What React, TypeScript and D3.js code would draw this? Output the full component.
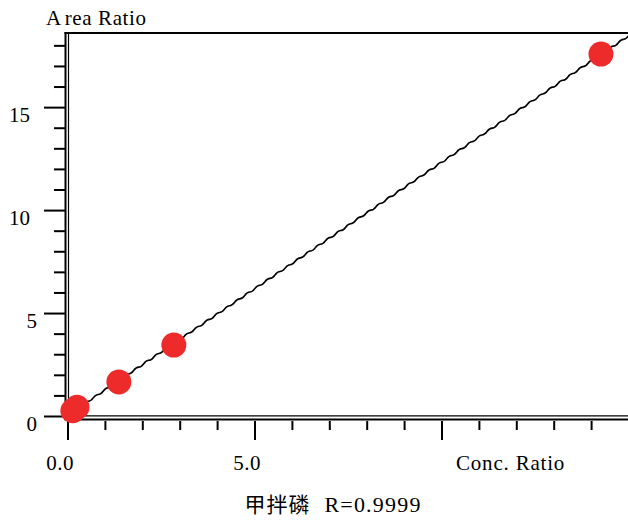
import { useEffect, useRef } from "react";
import * as d3 from "d3";

// calibration points
const concRatio = [0.13, 0.24, 1.36, 2.83, 14.25];
const areaRatio = [0.28, 0.45, 1.68, 3.47, 17.6];
const xMajorTicks = [0, 5];
const xTickLabels = ["0.0", "5.0"];
const yMajorTicks = [0, 5, 10, 15];
const compound = "甲拌磷";
const rValue = "R=0.9999";

const W = 628;
const H = 521;
const serif = "'Liberation Serif', 'Times New Roman', serif";

export default function App() {
  const svgRef = useRef<SVGSVGElement>(null);

  useEffect(() => {
    if (!svgRef.current) return;
    const svg = d3.select(svgRef.current);
    svg.selectAll("*").remove();

    const x = d3.scaleLinear().domain([0, 15]).range([68, 629]);
    const y = d3.scaleLinear().domain([0, 18.6]).range([416.5, 33.5]);

    // least squares fit
    const mx = d3.mean(concRatio)!;
    const my = d3.mean(areaRatio)!;
    let sxy = 0;
    let sxx = 0;
    concRatio.forEach((c, i) => {
      sxy += (c - mx) * (areaRatio[i] - my);
      sxx += (c - mx) * (c - mx);
    });
    const slope = sxy / sxx;
    const icpt = my - slope * mx;

    // frame
    const frame = svg.append("g").attr("stroke", "#000").attr("fill", "none");
    frame.append("line").attr("x1", 65.5).attr("x2", 65.5).attr("y1", 32).attr("y2", 420).attr("stroke-width", 2);
    frame.append("line").attr("x1", 68.5).attr("x2", 68.5).attr("y1", 34).attr("y2", 416).attr("stroke-width", 1.2);
    frame.append("line").attr("x1", 64.5).attr("x2", W).attr("y1", 33).attr("y2", 33).attr("stroke-width", 2);
    frame.append("line").attr("x1", 64.5).attr("x2", W).attr("y1", 419.5).attr("y2", 419.5).attr("stroke-width", 2);
    frame.append("line").attr("x1", 68).attr("x2", W).attr("y1", 415.8).attr("y2", 415.8).attr("stroke-width", 1.2);

    // y ticks
    const yt = svg.append("g").attr("stroke", "#000").attr("stroke-width", 2);
    d3.range(0, 19).forEach((v) => {
      const major = yMajorTicks.includes(v);
      yt.append("line")
        .attr("x1", major ? 44 : 54)
        .attr("x2", 65)
        .attr("y1", y(v))
        .attr("y2", y(v));
    });
    svg
      .append("g")
      .selectAll("text")
      .data(yMajorTicks)
      .join("text")
      .attr("x", (d) => (d >= 10 ? 30 : 37))
      .attr("y", (d) => y(d) + 14)
      .attr("text-anchor", "end")
      .attr("font-family", serif)
      .attr("font-size", 21)
      .text((d) => String(d));

    // x ticks
    const xt = svg.append("g").attr("stroke", "#000").attr("stroke-width", 2);
    d3.range(0, 15).forEach((v) => {
      const major = v % 5 === 0;
      xt.append("line")
        .attr("x1", x(v))
        .attr("x2", x(v))
        .attr("y1", 421)
        .attr("y2", major ? 440 : 430);
    });
    svg
      .append("g")
      .selectAll("text")
      .data(xMajorTicks)
      .join("text")
      .attr("x", (d) => x(d) - 8)
      .attr("y", 470)
      .attr("text-anchor", "middle")
      .attr("font-family", serif)
      .attr("font-size", 21)
      .attr("letter-spacing", 0.5)
      .text((_d, i) => xTickLabels[i]);

    svg
      .append("text")
      .attr("x", 456)
      .attr("y", 470)
      .attr("font-family", serif)
      .attr("font-size", 21)
      .attr("letter-spacing", 0.8)
      .text("Conc. Ratio");

    const yTitle = svg
      .append("text")
      .attr("x", 46)
      .attr("y", 25)
      .attr("font-family", serif)
      .attr("font-size", 21)
      .attr("letter-spacing", 0.6);
    yTitle.append("tspan").text("A");
    yTitle.append("tspan").attr("dx", 3).text("rea Ratio");

    // fitted line, drawn with the slight stair wobble of the original
    const xs = d3.range(0, 15.3, 0.27);
    const line = d3
      .line<number>()
      .x((d) => x(d))
      .y((d) => y(icpt + slope * d))
      .curve(d3.curveBumpX);
    svg
      .append("path")
      .attr("d", line(xs))
      .attr("fill", "none")
      .attr("stroke", "#000")
      .attr("stroke-width", 1.6);

    // points
    svg
      .append("g")
      .selectAll("circle")
      .data(concRatio)
      .join("circle")
      .attr("cx", (d) => x(d))
      .attr("cy", (_d, i) => y(areaRatio[i]))
      .attr("r", 12.5)
      .attr("fill", "#ee2b2b");

    // caption
    const cap = svg
      .append("text")
      .attr("x", 333)
      .attr("y", 512)
      .attr("text-anchor", "middle")
      .attr("font-size", 22);
    cap
      .append("tspan")
      .attr("font-family", "'Noto Sans CJK SC', sans-serif")
      .attr("font-size", 21)
      .attr("letter-spacing", 1)
      .text(compound);
    cap
      .append("tspan")
      .attr("dx", 14)
      .attr("font-family", serif)
      .attr("letter-spacing", 1.2)
      .text(rValue);
  }, []);

  return (
    <svg
      ref={svgRef}
      width={W}
      height={H}
      style={{ position: "absolute", left: 0, top: 0, background: "#fff" }}
    />
  );
}
